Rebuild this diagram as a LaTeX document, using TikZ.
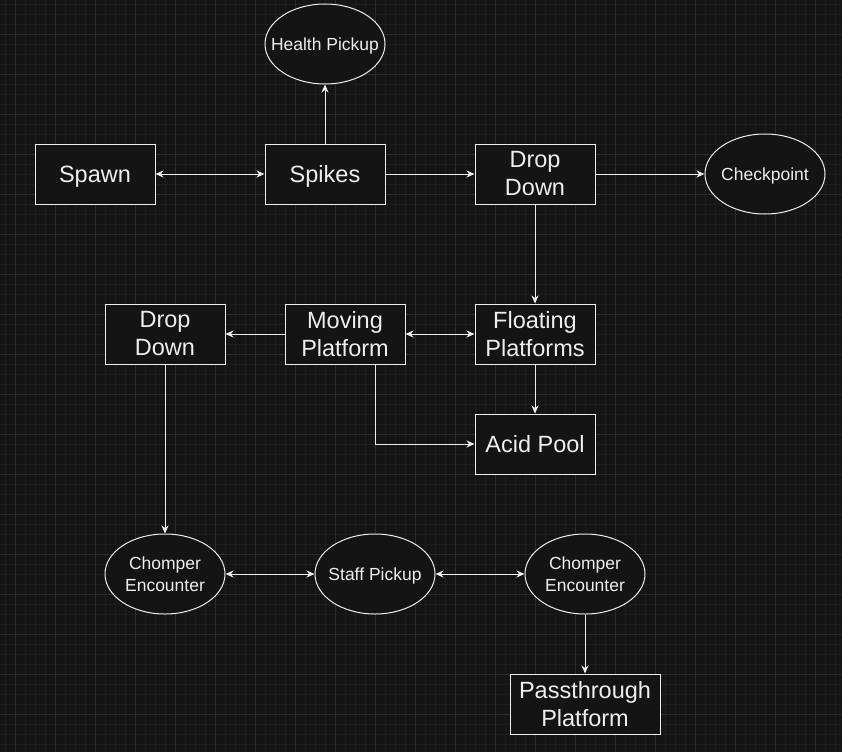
\documentclass[tikz,border=0pt]{standalone}
\usepackage{fontspec}
\setmainfont{Liberation Sans}
\usetikzlibrary{arrows.meta,shapes.geometric}
\definecolor{canvas}{HTML}{141414}
\definecolor{gridmajor}{HTML}{2C2C2C}
\definecolor{gridminor}{HTML}{1C1C1C}
\definecolor{ink}{HTML}{EEEEEE}

\begin{document}
\begin{tikzpicture}[x=1pt,y=-1pt,
    room/.style={draw=ink, fill=canvas, text=ink, line width=1pt,
        minimum width=120pt, minimum height=60pt, inner sep=0pt,
        align=center, font=\fontsize{23.5}{28}\selectfont},
    roomline/.style={room, text height=21.3pt, text depth=5pt},
    pickup/.style={ellipse, draw=ink, fill=canvas, text=ink, line width=1pt,
        minimum width=120pt, minimum height=80pt, inner xsep=-25pt, inner ysep=0pt,
        align=center, font=\fontsize{17.5}{22}\selectfont},
    pickupline/.style={pickup, text height=15.8pt, text depth=3.7pt},
    link/.style={draw=ink, line width=1pt, -{Stealth[length=8pt,width=7pt,inset=2.5pt]}},
    twoway/.style={link, {Stealth[length=8pt,width=7pt,inset=2.5pt]}-{Stealth[length=8pt,width=7pt,inset=2.5pt]}}]
    % canvas and grid
    \fill[canvas] (0,0) rectangle (842,752);
    \useasboundingbox (0,0) rectangle (842,752);
    \foreach \x in {5.7,15.7,...,836} \draw[gridminor, line width=1pt] (\x,0) -- (\x,752);
    \foreach \y in {4.3,14.3,...,750} \draw[gridminor, line width=1pt] (0,\y) -- (842,\y);
    \foreach \x in {15.7,55.7,...,836} \draw[gridmajor, line width=1pt] (\x,0) -- (\x,752);
    \foreach \y in {34.3,74.3,...,750} \draw[gridmajor, line width=1pt] (0,\y) -- (842,\y);

    % top row
    \node[roomline] (spawn) at (95,174) {Spawn};
    \node[roomline] (spikes) at (325,174) {Spikes};
    \node[pickupline] (healthpickup) at (325,44) {Health Pickup};
    \node[room] (dropdowntop) at (535,174) {Drop\\Down};
    \node[pickupline] (checkpoint) at (765,174) {Checkpoint};

    % middle
    \node[room] (dropdownleft) at (165,334) {Drop\\Down};
    \node[room] (movingplat) at (345,334) {Moving\\Platform};
    \node[room] (floatplat) at (535,334) {Floating\\Platforms};
    \node[roomline] (acidpool) at (535,444) {Acid Pool};

    % bottom row
    \node[pickup] (chomperleft) at (165,574) {Chomper\\Encounter};
    \node[pickupline] (staffpickup) at (375,574) {Staff Pickup};
    \node[pickup] (chomperright) at (585,574) {Chomper\\Encounter};
    \node[room, minimum width=150pt] (passplat) at (585,704) {Passthrough\\Platform};

    % connections
    \draw[twoway] (spawn) -- (spikes);
    \draw[link] (spikes) -- (healthpickup);
    \draw[link] (spikes) -- (dropdowntop);
    \draw[link] (dropdowntop) -- (checkpoint);
    \draw[link] (dropdowntop) -- (floatplat);
    \draw[twoway] (movingplat) -- (floatplat);
    \draw[link] (movingplat) -- (dropdownleft);
    \draw[link] (floatplat) -- (acidpool);
    \draw[link] ([xshift=30pt]movingplat.south) |- (acidpool.west);
    \draw[link] (dropdownleft) -- (chomperleft);
    \draw[twoway] (chomperleft) -- (staffpickup);
    \draw[twoway] (staffpickup) -- (chomperright);
    \draw[link] (chomperright) -- (passplat);
\end{tikzpicture}
\end{document}
